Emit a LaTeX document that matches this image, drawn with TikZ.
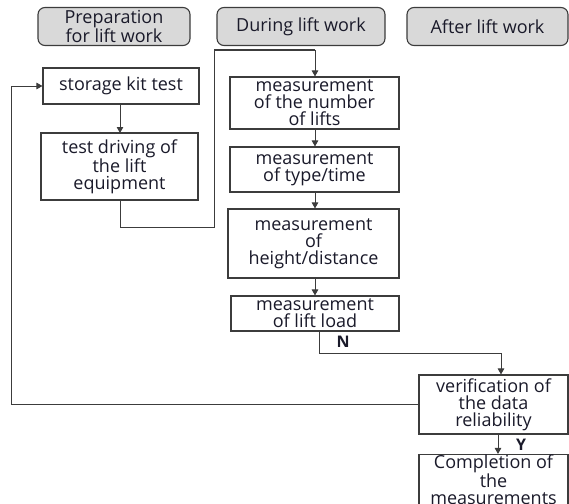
\documentclass[tikz,border=0pt]{standalone}
\usepackage{fontspec}
\setmainfont{Open Sans}
\usetikzlibrary{arrows.meta}
\definecolor{linegray}{HTML}{3C3C3C}
\definecolor{headfill}{HTML}{D9D9D9}
\definecolor{txt}{HTML}{1A1A2A}
\tikzset{
  base/.style={font=\fontsize{18}{17}\selectfont, text=txt, align=center, inner sep=0pt},
  header/.style={base, draw=linegray, line width=1.1pt, fill=headfill, rounded corners=7pt},
  stepbox/.style={base, draw=linegray, line width=1.1pt, fill=white},
  conn/.style={draw=linegray, line width=1pt},
  arr/.style={conn, -{Triangle[width=6.5pt,length=6pt]}},
  yn/.style={font=\fontsize{16}{16}\selectfont\bfseries, text=txt, inner sep=0pt}
}
\begin{document}
\begin{tikzpicture}[x=1pt,y=-1pt]
\useasboundingbox (0,0) rectangle (569,503);
\clip (0,0) rectangle (569,503);

% column headers
\node[header, minimum width=152pt, minimum height=38pt] (h1) at (114,26.5) {Preparation\\for lift work};
\node[header, minimum width=168pt, minimum height=38pt] (h2) at (301,26.5) {During lift work};
\node[header, minimum width=161pt, minimum height=38pt] (h3) at (487.5,26.5) {After lift work};

% preparation steps
\node[stepbox, minimum width=156pt, minimum height=36pt] (store) at (121,86) {storage kit test};
\node[stepbox, minimum width=157pt, minimum height=67pt] (drive) at (119.5,166.5) {test driving of\\the lift\\equipment};

% measurements during lift work
\node[stepbox, minimum width=169pt, minimum height=52pt] (num) at (314.5,103) {measurement\\of the number\\of lifts};
\node[stepbox, minimum width=169pt, minimum height=45pt] (type) at (314.5,169.5) {measurement\\of type/time};
\node[stepbox, minimum width=171pt, minimum height=69pt] (height) at (313.5,243.5) {measurement\\of\\height/distance};
\node[stepbox, minimum width=168pt, minimum height=35pt] (load) at (315,313.5) {measurement\\of lift load};

% after lift work
\node[stepbox, minimum width=149pt, minimum height=59pt] (verif) at (493.5,404.5) {verification of\\the data\\reliability};
\node[stepbox, minimum width=149pt, minimum height=50pt] (compl) at (493.5,479.5) {Completion of\\the\\measurements};

% routing points
\coordinate (d1) at (120,227);
\coordinate (d2) at (214,227);
\coordinate (d3) at (214,50);
\coordinate (d4) at (315,50);
\coordinate (n1) at (319,353);
\coordinate (n2) at (501,353);
\coordinate (f1) at (11,404.5);
\coordinate (f2) at (11,86);

% connectors
\draw[arr] (store.south -| 120,0) -- (120,133);
\draw[conn] (drive.south -| d1) -- (d1) -- (d2) -- (d3) -- (d4);
\draw[arr] (d4) -- (num.north -| d4);
\draw[arr] (num.south -| 315,0) -- (type.north -| 315,0);
\draw[arr] (type.south -| 315,0) -- (height.north -| 315,0);
\draw[arr] (height.south -| 315,0) -- (load.north -| 315,0);
\draw[conn] (load.south -| n1) -- (n1) -- (n2);
\draw[arr] (n2) -- (verif.north -| n2);
\draw[arr] (verif.west) -- (f1) -- (f2) -- (store.west);
\draw[arr] (verif.south -| 498,0) -- (compl.north -| 498,0);

% decision labels
\node[yn] (nlab) at (343,342) {N};
\node[yn] (ylab) at (521,445) {Y};
\end{tikzpicture}
\end{document}
